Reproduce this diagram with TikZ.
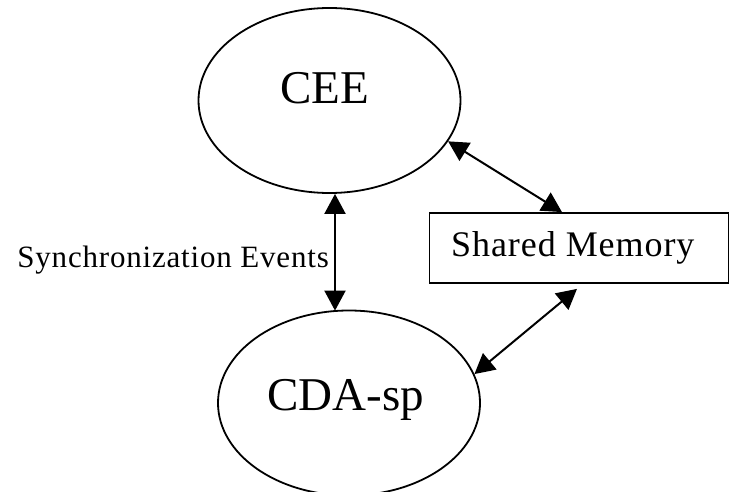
\documentclass[tikz,border=0pt]{standalone}
\usepackage{fontspec}
\setmainfont{Liberation Serif}
\usetikzlibrary{shapes.geometric,arrows.meta}
\tikzset{
  procnode/.style={draw, ellipse, line width=1.8pt, inner sep=0pt, minimum width=262pt, minimum height=185pt},
  memnode/.style={draw, rectangle, line width=1.8pt, inner sep=0pt, minimum width=299pt, minimum height=70pt},
  biarrow/.style={line width=2pt, {Triangle[length=20pt,width=21pt]}-{Triangle[length=20pt,width=21pt]}},
  bigtext/.style={font=\fontsize{47}{56}\selectfont, inner sep=0pt},
}
\begin{document}
\begin{tikzpicture}[x=1pt,y=1pt]
\useasboundingbox (0,0) rectangle (730,491);
\node[procnode] (cee) at (329.5,390.5) {};
\node[bigtext, anchor=base] (ceelabel) at (325,388) {CEE};
\node[procnode] (cda) at (349,88) {};
\node[bigtext, anchor=base] (cdalabel) at (345.5,81) {CDA-sp};
\node[memnode] (sm) at (579,243) {};
\node[anchor=base west, inner sep=0pt, font=\fontsize{36}{43}\selectfont\addfontfeature{LetterSpace=2.6}] (smlabel) at (451,234.5) {Shared Memory};
\node[anchor=base east, inner sep=0pt, font=\fontsize{31}{37}\selectfont\addfontfeature{LetterSpace=2.6}] (synclabel) at (329,224) {Synchronization Events};
\draw[biarrow] ([xshift=5.5pt]cee.south) -- ([xshift=-14pt,yshift=-1pt]cda.north);
\draw[biarrow] (cee.-19) -- ([xshift=-17pt]sm.north);
\draw[biarrow] ([xshift=-2pt,yshift=-5pt]sm.south) -- (cda.13);
\end{tikzpicture}
\end{document}
